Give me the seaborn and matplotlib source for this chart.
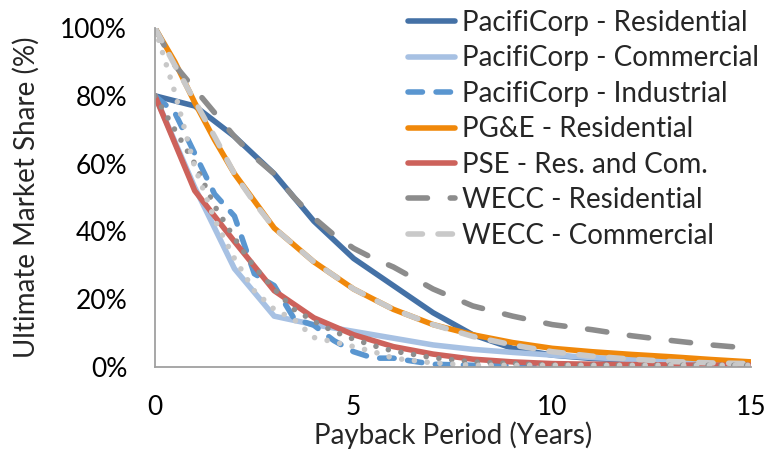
import matplotlib
matplotlib.use("Agg")
import matplotlib.pyplot as plt
import seaborn as sns
import pandas as pd

# payback period (years) and ultimate market share (%)
x_half = [0, 0.5, 1, 1.5, 2, 2.5, 3, 3.5, 4, 4.5, 5, 5.5, 6, 7, 8, 9, 10, 11, 12, 13, 14, 15]
x_year = [0, 1, 2, 3, 4, 5, 6, 7, 8, 9, 10, 11, 12, 13, 14, 15]

pac_res = [80, 77, 68, 57, 43, 32, 24, 16, 9.5, 5.5, 3.5, 2.5, 2, 1.5, 1, 0.8]
pac_com = [80, 53, 29, 15, 12.5, 10.5, 8.5, 6.5, 5.2, 4.3, 3.5, 2.8, 2.2, 1.7, 1.2, 0.8]
pac_ind = [80, 75, 63, 51, 44.5, 27.5, 24, 14.3, 12.3, 7.8, 4.5, 2.6, 2.6, 0.8, 0.5, 0.5, 0.4, 0.4, 0.4, 0.3, 0.3, 0.3]
pge_res = [100, 90, 78, 67, 57, 49, 41, 36, 31, 27, 23, 20, 17, 12.5, 9.5, 7.2, 5.5, 4.5, 3.7, 3, 2.2, 1.5]
pse_rc = [80, 52, 37, 22.5, 14.5, 9.5, 6, 3.8, 2.3, 1.5, 1, 0.8, 0.7, 0.6, 0.5, 0.5]
wecc_res = [100, 89, 82, 75, 68, 62, 57, 50, 44, 39, 35, 32, 29.5, 23, 18, 15, 12.5, 11, 9.2, 7.8, 6.5, 5.5]
wecc_com = [100, 89, 78.5, 68, 57, 48.5, 41, 36, 31, 27, 23, 20, 17, 12.5, 9, 6.5, 4.5, 3.2, 2.3, 1.6, 1.2, 1.0]
dot_dark = [80, 70, 60, 47.5, 38, 29.5, 23, 17, 13.5, 10.5, 8.2, 6.3, 4.7, 2.7, 1.5, 1.0, 0.5, 0.5, 0.5, 0.5, 0.5, 0.5]
dot_light = [100, 81, 59, 43.5, 32, 22.5, 17, 14, 8.7, 7.4, 6, 4.5, 2.6, 1.2, 0.5, 0.5, 0.5, 0.5, 0.5, 0.5, 0.5, 0.5]

plt.rcParams["lines.solid_capstyle"] = "round"
plt.rcParams["lines.dash_capstyle"] = "round"

sns.set_style("white")
plt.rcParams["font.family"] = ["Lato", "DejaVu Sans"]

fig = plt.figure(figsize=(7.65, 4.51), dpi=100)
ax = fig.add_axes([0.2026, 0.1863, 0.7791, 0.7516])

lw = 4.0
series = [
    (x_year, pac_res, "PacifiCorp - Residential", "#4471A6", "-"),
    (x_year, pac_com, "PacifiCorp - Commercial", "#A7C1E3", "-"),
    (x_half, pac_ind, "PacifiCorp - Industrial", "#5A96D0", (0, (2.6, 2.45))),
    (x_half, pge_res, "PG&E - Residential", "#F0880A", "-"),
    (x_year, pse_rc, "PSE - Res. and Com.", "#CD625B", "-"),
    (x_half, wecc_res, "WECC - Residential", "#8C8C8C", (0, (3.5, 4.1))),
    (x_half, wecc_com, "WECC - Commercial", "#C9C9C9", (0, (2.6, 2.8))),
    (x_half, dot_dark, "_dots1", "#8E8E8E", (0, (0.01, 2.3))),
    (x_half, dot_light, "_dots2", "#C8C8C8", (0, (0.01, 2.3))),
]

for xs, ys, name, col, ls in series:
    df = pd.DataFrame({"x": xs, "y": ys})
    sns.lineplot(data=df, x="x", y="y", ax=ax, color=col, lw=lw,
                 linestyle=ls, label=name, legend=False)

ax.set_xlim(0, 15)
ax.set_ylim(0, 100)
ax.set_xticks([0, 5, 10, 15])
ax.set_yticks([0, 20, 40, 60, 80, 100])
ax.set_yticklabels([f"{v}%" for v in [0, 20, 40, 60, 80, 100]])
ax.set_xlabel("Payback Period (Years)", fontsize=20, labelpad=1)
ax.set_ylabel("Ultimate Market Share (%)", fontsize=20, labelpad=15)

for s in ["top", "right"]:
    ax.spines[s].set_visible(False)
for s in ["left", "bottom"]:
    ax.spines[s].set_color("#A0A0A0")
    ax.spines[s].set_linewidth(1.3)
ax.tick_params(axis="both", colors="#A0A0A0", labelcolor="black", labelsize=19,
               width=1.3, direction="out")
ax.tick_params(axis="y", length=6, pad=14)
ax.tick_params(axis="x", length=7, pad=13)

handles, labels = ax.get_legend_handles_labels()
ax.legend(handles, labels, loc="upper left", bbox_to_anchor=(408 / 765, 0.978),
          bbox_transform=fig.transFigure, frameon=False, fontsize=20,
          handlelength=1.7, handletextpad=0.25, labelspacing=0.34, borderpad=0.0,
          borderaxespad=0.0)

plt.savefig("out.png", dpi=100)
